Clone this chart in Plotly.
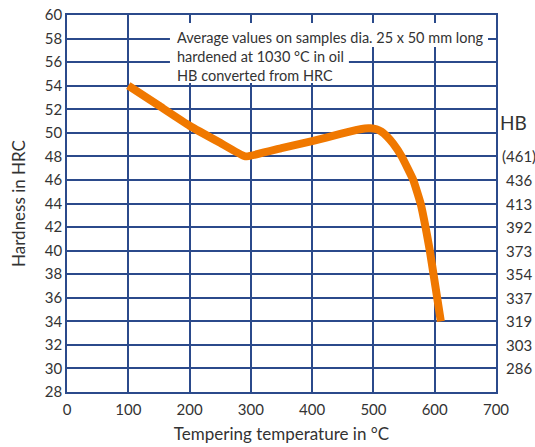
import plotly.graph_objects as go

# Curve data (tempering temperature °C, hardness HRC)
temp = [100, 150, 200, 250, 291, 350, 400, 446, 473, 486, 495, 505, 513, 522, 532, 546, 565, 577, 585, 592, 598, 604, 610]
hrc = [54.0, 52.3, 50.6, 49.15, 48.0, 48.7, 49.3, 49.9, 50.25, 50.37, 50.38, 50.3, 50.1, 49.7, 49.1, 48.0, 46.0, 44.0, 42.0, 40.0, 38.0, 36.0, 34.0]

# Right-hand HB scale
hb_hrc = [48, 46, 44, 42, 40, 38, 36, 34, 32, 30]
hb_labels = ["(461)", "436", "413", "392", "373", "354", "337", "319", "303", "286"]

x_ticks = [0, 100, 200, 300, 400, 500, 600, 700]
y_ticks = list(range(28, 61, 2))

note_lines = ["Average values on samples dia. 25 x 50 mm long",
              "hardened at 1030 °C in oil",
              "HB converted from HRC"]

GRID = "#2b4a8b"
ORANGE = "#f07800"
TXT = "#333333"
FONT = "Lato"

fig = go.Figure()
fig.add_trace(go.Scatter(x=temp, y=hrc, mode="lines",
                         line=dict(color=ORANGE, width=8, shape="spline", smoothing=0.3),
                         hoverinfo="skip", showlegend=False))

fig.update_layout(
    width=535, height=447,
    margin=dict(l=67, r=39, t=15, b=55, autoexpand=False),
    paper_bgcolor="white", plot_bgcolor="white",
    font=dict(family=FONT, color=TXT, size=14),
    xaxis=dict(range=[0, 700], tickvals=x_ticks, showgrid=True, gridcolor=GRID, gridwidth=1.5,
               showline=True, linecolor=GRID, linewidth=1.5, mirror=True, zeroline=False,
               ticks="", tickfont=dict(size=15, color=TXT), automargin=False, ticklabelstandoff=3,
               title=dict(text="Tempering temperature in °C", font=dict(size=17, color=TXT), standoff=11)),
    yaxis=dict(range=[28, 60], tickvals=y_ticks, showgrid=True, gridcolor=GRID, gridwidth=1.5,
               showline=True, linecolor=GRID, linewidth=1.5, mirror=True, zeroline=False,
               ticks="", tickfont=dict(size=15, color=TXT), automargin=False,
               title=dict(text="Hardness in HRC", font=dict(size=17, color=TXT), standoff=15)),
)

# white boxes behind the note
fig.add_shape(type="rect", xref="x", yref="y", x0=168, x1=687, y0=57.28, y1=59.32,
              fillcolor="white", line=dict(width=0), layer="between")
fig.add_shape(type="rect", xref="x", yref="y", x0=168, x1=460, y0=54.23, y1=57.28,
              fillcolor="white", line=dict(width=0), layer="between")

fig.add_annotation(xref="x", yref="y", x=176, y=59.0, xanchor="left", yanchor="top",
                   text="<br>".join(note_lines), showarrow=False, align="left",
                   font=dict(size=14.5, color=TXT, family=FONT))

# HB labels
fig.add_annotation(xref="paper", yref="y", x=1.04, y=50.9, xanchor="center", yanchor="middle",
                   text="HB", showarrow=False, font=dict(size=19, color=TXT))
for v, lab in zip(hb_hrc, hb_labels):
    fig.add_annotation(xref="paper", yref="y", x=1.0536, y=v, xanchor="center", yanchor="middle",
                       text=lab, showarrow=False, font=dict(size=15, color=TXT))

fig.write_html("out.html")
